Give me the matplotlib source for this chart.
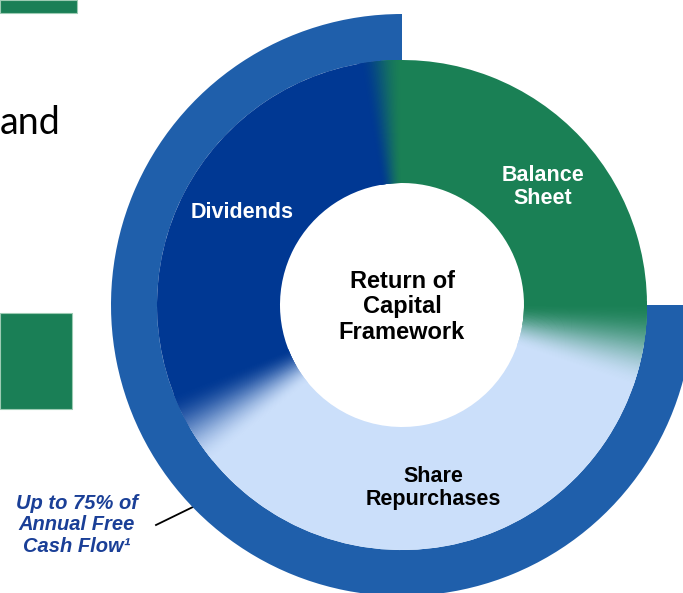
import numpy as np
import matplotlib
matplotlib.use("Agg")
import matplotlib.pyplot as plt
from matplotlib.patches import Wedge, Rectangle
from matplotlib.colors import to_rgb

W, H = 683, 593

# return of capital framework split (share of the ring, %)
segments = ["Dividends", "Share Repurchases", "Balance Sheet"]
shares = [32, 39, 29]
seg_colors = ["#003893", "#cbdffa", "#1a8055"]

# outer ring: up to 75% of annual free cash flow
fcf_share = [75, 25]
ring_color = "#1f5fab"

center = (402, H - 305)
r_outer, ring_w = 291, 46
r_inner, donut_w = 245, 123
start = 95


def py(y):
    return H - y


fig = plt.figure(figsize=(W / 100, H / 100), dpi=100)
ax = fig.add_axes([0, 0, 1, 1])

# left side pieces of the slide
ax.add_patch(Rectangle((0, py(13)), 77, 13, fc="#1a7f56", ec="#9ccbb3", lw=0.8, zorder=1))
ax.add_patch(Rectangle((0, py(409)), 72, 96, fc="#1a7f56", ec="#9ccbb3", lw=0.8, zorder=1))
ax.text(0, py(134), "and", fontsize=27, family="Lato", color="black",
        ha="left", va="baseline")

# leader line to the annotation
ax.plot([156, 197], [py(525), py(505)], color="black", lw=1.3, zorder=1)

# outer ring
ax.pie(fcf_share, colors=[ring_color, "none"], startangle=90, radius=r_outer,
       center=center, wedgeprops=dict(width=ring_w, linewidth=0), frame=True)

# inner donut
ax.pie(shares, colors=seg_colors, startangle=start, radius=r_inner, center=center,
       wedgeprops=dict(width=donut_w, linewidth=0), frame=True)

ax.set_xlim(0, W)
ax.set_ylim(0, H)
ax.set_aspect("equal")
ax.axis("off")

# soft blends at the slice borders
bounds = start + 360 * np.cumsum(shares) / 100.0
half = [9, 10, 5]
for i, b in enumerate(bounds):
    c1 = np.array(to_rgb(seg_colors[i]))
    c2 = np.array(to_rgb(seg_colors[(i + 1) % len(shares)]))
    h = half[i]
    n = 60
    edges = np.linspace(b - h, b + h, n + 1)
    for k in range(n):
        t = (k + 0.5) / n
        t = t * t * (3 - 2 * t)
        col = c1 * (1 - t) + c2 * t
        ax.add_patch(Wedge(center, r_inner, edges[k], edges[k + 1] + 0.3,
                           width=donut_w, fc=col, ec="none", lw=0, zorder=3))

bold = dict(family="Liberation Sans", weight="bold", ha="center", va="center", zorder=5)
ax.text(242, py(213), "Dividends", fontsize=15.5, color="white", **bold)
ax.text(543, py(187), "Balance\nSheet", fontsize=15.5, color="white", linespacing=1.15, **bold)
ax.text(402, py(307), "Return of\nCapital\nFramework", fontsize=17, color="black",
        linespacing=1.15, **bold)
ax.text(433, py(488), "Share\nRepurchases", fontsize=15.5, color="black", linespacing=1.15, **bold)

ax.text(77, py(525), "Up to 75% of\nAnnual Free\nCash Flow\u00b9", fontsize=14.5,
        color="#1a3f97", family="Liberation Sans", weight="bold", style="italic",
        ha="center", va="center", linespacing=1.15)

fig.savefig("out.png", dpi=100, facecolor="white")
